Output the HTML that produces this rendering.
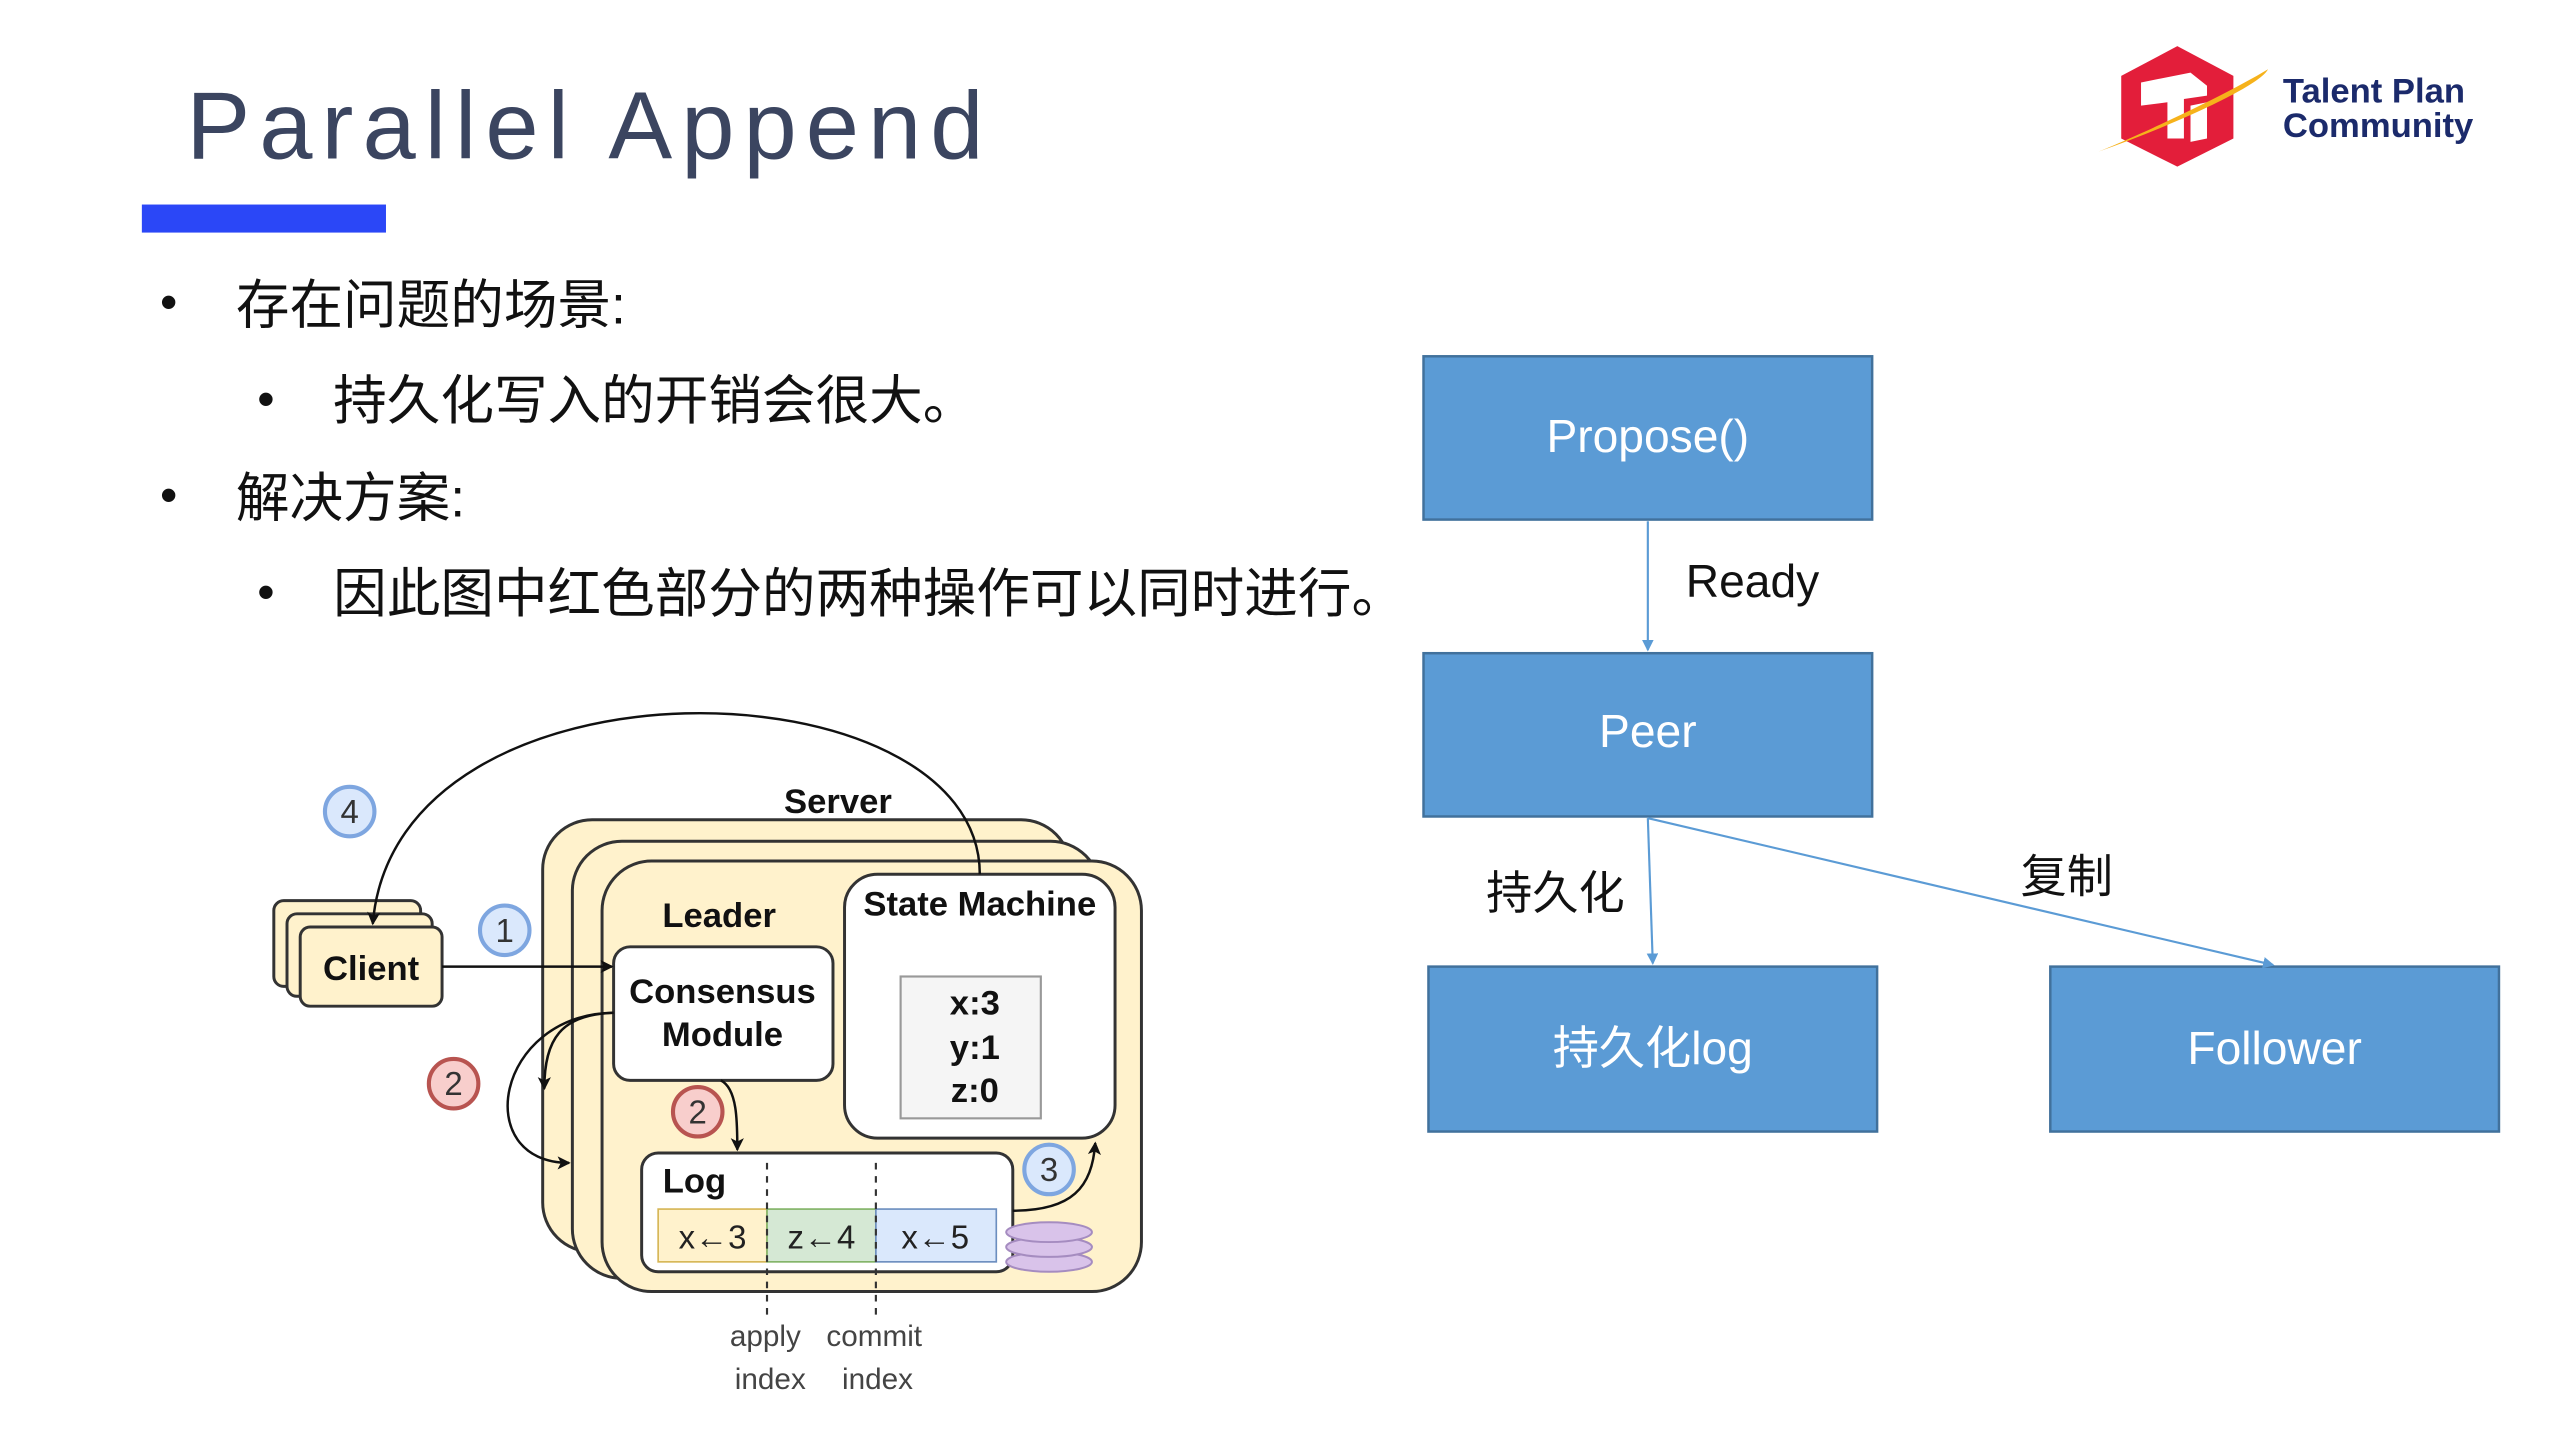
<!DOCTYPE html>
<html><head><meta charset="utf-8"><style>
html,body{margin:0;padding:0;background:#fff;}
svg{display:block;}
text{font-family:"Liberation Sans","Noto Sans CJK SC",sans-serif;}
</style></head><body>
<svg width="2560" height="1440" viewBox="0 0 1552 873" preserveAspectRatio="none" xmlns="http://www.w3.org/2000/svg">
<defs>
<marker id="ab" markerWidth="8" markerHeight="8" refX="7" refY="4" orient="auto" markerUnits="userSpaceOnUse"><path d="M0,0 L8,4 L0,8 L2,4 z" fill="#111"/></marker>
<marker id="abl" markerWidth="7" markerHeight="7" refX="6" refY="3.5" orient="auto" markerUnits="userSpaceOnUse"><path d="M0,0 L7,3.5 L0,7 z" fill="#5b9bd5"/></marker>
</defs>
<rect width="1552" height="873" fill="#fff"/>
<!-- title -->
<text x="113" y="96" font-size="58" fill="#3b4560" letter-spacing="5.5">Parallel Append</text>
<rect x="86" y="124" width="148" height="17" fill="#2b47f7"/>
<!-- bullets -->
<g font-size="32.5" fill="#111">
<text x="97" y="193" font-size="30">•</text><text x="143" y="196">存在问题的场景:</text>
<text x="156" y="252" font-size="30">•</text><text x="202" y="254">持久化写入的开销会很大。</text>
<text x="97" y="310" font-size="30">•</text><text x="143" y="313">解决方案:</text>
<text x="156" y="369" font-size="30">•</text><text x="202" y="371">因此图中红色部分的两种操作可以同时进行。</text>
</g>
<!-- logo -->
<polygon points="1320,28 1354,46 1354,84 1320,101 1286,84 1286,46" fill="#e31e3a"/>
<path d="M1298,50 L1328,44 L1338,52 L1338,58 L1324,60 L1324,84 L1314,84 L1314,62 L1298,64 z M1328,64 L1338,62 L1338,84 L1328,86 z" fill="#fff"/>
<path d="M1272,92 C1290,85 1345,60 1375,42 C1370,52 1320,75 1272,92 z" fill="#f6b21b"/>
<text x="1384" y="62" font-size="21" font-weight="bold" fill="#1b2a6b">Talent Plan</text>
<text x="1384" y="83" font-size="21" font-weight="bold" fill="#1b2a6b">Community</text>
<!-- flowchart -->
<g stroke="#41719c" stroke-width="1.5" fill="#5b9bd5">
<rect x="863" y="216" width="272" height="99"/>
<rect x="863" y="396" width="272" height="99"/>
<rect x="866" y="586" width="272" height="100"/>
<rect x="1243" y="586" width="272" height="100"/>
</g>
<g font-size="28" fill="#fff" text-anchor="middle">
<text x="999" y="274">Propose()</text>
<text x="999" y="453">Peer</text>
<text x="1002" y="645">持久化log</text>
<text x="1379" y="645">Follower</text>
</g>
<g stroke="#5b9bd5" stroke-width="1.3" fill="none">
<line x1="999" y1="316" x2="999" y2="394" marker-end="url(#abl)"/>
<line x1="999" y1="496" x2="1002" y2="584" marker-end="url(#abl)"/>
<line x1="999" y1="496" x2="1378" y2="585" marker-end="url(#abl)"/>
</g>
<g font-size="28" fill="#111">
<text x="1022" y="362">Ready</text>
<text x="901" y="551">持久化</text>
<text x="1225" y="541">复制</text>
</g>
<!-- left diagram -->
<g stroke="#333" stroke-width="1.8" fill="#fff2cc">
<rect x="329" y="497" width="320" height="262" rx="30"/>
<rect x="347" y="510" width="320" height="265" rx="30"/>
<rect x="365" y="522" width="327" height="261" rx="30"/>
<rect x="166" y="546" width="89" height="52" rx="6"/>
<rect x="174" y="554" width="88" height="50" rx="6"/>
<rect x="182" y="562" width="86" height="48" rx="6"/>
</g>
<g stroke="#333" stroke-width="1.8" fill="#fff">
<rect x="512" y="530" width="164" height="160" rx="20"/>
<rect x="372" y="574" width="133" height="81" rx="10"/>
<rect x="389" y="699" width="225" height="72" rx="10"/>
</g>
<rect x="546" y="592" width="85" height="86" fill="#f5f5f5" stroke="#999" stroke-width="1.3"/>
<rect x="399" y="733" width="66" height="32" fill="#fff2cc" stroke="#d6b656"/>
<rect x="465" y="733" width="66" height="32" fill="#d5e8d4" stroke="#82b366"/>
<rect x="531" y="733" width="73" height="32" fill="#dae8fc" stroke="#6c8ebf"/>
<g stroke="#333" stroke-dasharray="4,4" stroke-width="1.3">
<line x1="465" y1="705" x2="465" y2="800"/><line x1="531" y1="705" x2="531" y2="800"/>
</g>
<g fill="#d9c3ea" stroke="#a58cc0" stroke-width="1.2">
<ellipse cx="636" cy="765" rx="26" ry="6"/><ellipse cx="636" cy="756" rx="26" ry="6"/><ellipse cx="636" cy="747" rx="26" ry="6"/>
</g>
<g font-weight="bold" fill="#111" text-anchor="middle" font-size="21">
<text x="508" y="493">Server</text>
<text x="436" y="562">Leader</text>
<text x="594" y="555">State Machine</text>
<text x="438" y="608">Consensus</text>
<text x="438" y="634">Module</text>
<text x="591" y="615">x:3</text><text x="591" y="642">y:1</text><text x="591" y="668">z:0</text>
<text x="225" y="594">Client</text>
<text x="421" y="723">Log</text>
</g>
<g fill="#222" text-anchor="middle" font-size="20">
<text x="432" y="757">x←3</text><text x="498" y="757">z←4</text><text x="567" y="757">x←5</text>
</g>
<g fill="#444" text-anchor="middle" font-size="18">
<text x="464" y="816">apply</text><text x="530" y="816">commit</text>
<text x="467" y="842">index</text><text x="532" y="842">index</text>
</g>
<g stroke="#111" stroke-width="1.5" fill="none">
<path d="M594,530 C594,400 240,390 226,560" marker-end="url(#ab)"/>
<line x1="268" y1="586" x2="371" y2="586" marker-end="url(#ab)"/>
<path d="M372,614 C340,615 330,630 330,660" marker-end="url(#ab)"/>
<path d="M372,614 C300,615 285,705 345,705" marker-end="url(#ab)"/>
<path d="M437,655 C447,660 447,680 447,697" marker-end="url(#ab)"/>
<path d="M614,734 C650,734 662,720 664,693" marker-end="url(#ab)"/>
</g>
<g stroke-width="2.5" font-size="20" text-anchor="middle">
<circle cx="212" cy="492" r="15" fill="#dae8fc" stroke="#7ea6e0"/><text x="212" y="499" fill="#333">4</text>
<circle cx="306" cy="564" r="15" fill="#dae8fc" stroke="#7ea6e0"/><text x="306" y="571" fill="#333">1</text>
<circle cx="275" cy="657" r="15" fill="#f8cecc" stroke="#b85450"/><text x="275" y="664" fill="#333">2</text>
<circle cx="423" cy="674" r="15" fill="#f8cecc" stroke="#b85450"/><text x="423" y="681" fill="#333">2</text>
<circle cx="636" cy="709" r="15" fill="#dae8fc" stroke="#7ea6e0"/><text x="636" y="716" fill="#333">3</text>
</g>
</svg>
</body></html>
